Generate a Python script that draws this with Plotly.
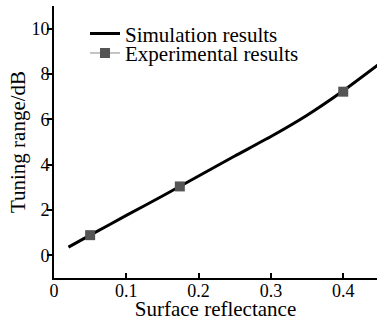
import plotly.graph_objects as go

# Simulation curve (tuning range vs surface reflectance)
sim_x = [0.02, 0.05, 0.10, 0.15, 0.20, 0.25, 0.30, 0.35, 0.40, 0.45]
sim_y = [0.36, 0.89, 1.76, 2.62, 3.50, 4.38, 5.24, 6.18, 7.26, 8.45]

# Experimental points
exp_x = [0.05, 0.174, 0.40]
exp_y = [0.89, 3.04, 7.22]

x_ticks = [0, 0.1, 0.2, 0.3, 0.4]
x_ticktext = ["0", "0.1", "0.2", "0.3", "0.4"]
y_ticks = [0, 2, 4, 6, 8, 10]
y_ticktext = ["0", "2", "4", "6", "8", "10"]

FONT = "Liberation Serif"

# interleave with None so that the experimental markers are not joined in the plot
ex, ey = [], []
for i, (a, b) in enumerate(zip(exp_x, exp_y)):
    if i:
        ex.append(None)
        ey.append(None)
    ex.append(a)
    ey.append(b)

fig = go.Figure()
fig.add_trace(go.Scatter(
    x=sim_x, y=sim_y, mode="lines", name="Simulation results",
    line=dict(color="black", width=3, shape="spline", smoothing=0.5),
    legend="legend", showlegend=True,
))
fig.add_trace(go.Scatter(
    x=ex, y=ey, mode="lines+markers", name="Experimental results",
    connectgaps=False,
    line=dict(color="#8a8a8a", width=1),
    marker=dict(symbol="square", size=10, color="#555555"),
    legend="legend2", showlegend=True,
))

leg_common = dict(
    x=0.096, xanchor="left", yanchor="middle",
    bgcolor="rgba(0,0,0,0)", borderwidth=0,
    font=dict(family=FONT, size=21, color="black"),
)

fig.update_layout(
    width=377, height=321,
    showlegend=True,
    margin=dict(l=54, r=0, t=6, b=43),
    paper_bgcolor="white", plot_bgcolor="white",
    font=dict(family=FONT, color="black"),
    legend=dict(y=0.898, **leg_common),
    legend2=dict(y=0.826, **leg_common),
    xaxis=dict(
        range=[0, 0.4467], tickvals=x_ticks, ticktext=x_ticktext,
        showline=True, linecolor="black", linewidth=2,
        ticks="inside", ticklen=5, tickwidth=1.5, tickcolor="black",
        ticklabelstandoff=-5,
        showgrid=False, zeroline=False,
        tickfont=dict(family=FONT, size=18, color="black"),
        title=dict(text="Surface reflectance", standoff=6,
                   font=dict(family=FONT, size=21, color="black")),
        automargin=False,
    ),
    yaxis=dict(
        range=[-1, 11], tickvals=y_ticks, ticktext=y_ticktext,
        showline=True, linecolor="black", linewidth=2,
        ticks="outside", ticklen=5, tickwidth=1.5, tickcolor="black",
        ticklabelstandoff=-6,
        showgrid=False, zeroline=False,
        tickfont=dict(family=FONT, size=18, color="black"),
        title=dict(text="Tuning range/dB", standoff=0,
                   font=dict(family=FONT, size=21, color="black")),
        automargin=False,
    ),
)

fig.write_html("out.html", config={"displayModeBar": False},
               post_script="document.body.style.margin='0';")
